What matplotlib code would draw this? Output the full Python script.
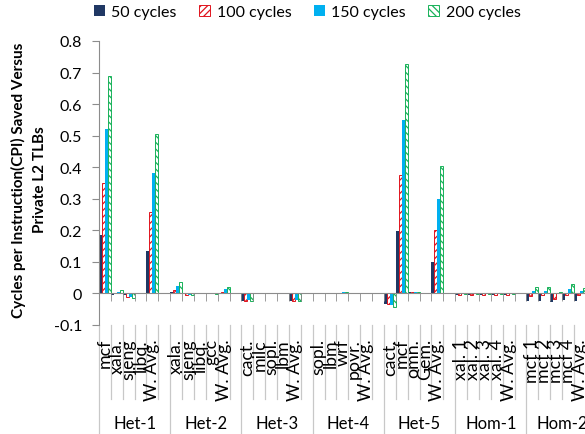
import matplotlib.pyplot as plt
from matplotlib.ticker import FixedLocator, NullLocator
import numpy as np


GROUPS = ["Het-1", "Het-2", "Het-3", "Het-4", "Het-5", "Hom-1", "Hom-2"]
CATEGORIES = [
    ["mcf", "xala.", "sjeng", "libq.", "W. Avg."],
    ["xala.", "sjeng", "libq.", "gcc", "W. Avg."],
    ["cact.", "milc", "sopl.", "lbm", "W. Avg."],
    ["sopl.", "lbm", "wrf", "povr.", "W. Avg."],
    ["cact.", "mcf", "omn.", "Gem.", "W. Avg."],
    ["xal. 1", "xal. 2", "xal. 3", "xal. 4", "W. Avg."],
    ["mcf 1", "mcf 2", "mcf 3", "mcf 4", "W. Avg."],
]

SERIES = ["50 cycles", "100 cycles", "150 cycles", "200 cycles"]

cyc50 = [0.185, -0.004, -0.006, 0.002, 0.135,
         0.005, -0.003, 0.002, 0.001, 0.002,
         -0.025, 0.002, 0.002, 0.002, -0.025,
         0.002, 0.002, 0.002, 0.002, 0.002,
         -0.033, 0.197, 0.003, 0.002, 0.100,
         -0.006, -0.006, -0.006, -0.006, -0.006,
         -0.024, -0.024, -0.028, -0.021, -0.024]
cyc100 = [0.351, 0.002, -0.010, 0.002, 0.257,
          0.012, -0.004, 0.002, 0.002, 0.005,
          -0.025, 0.002, 0.002, 0.002, -0.024,
          0.002, 0.002, 0.002, 0.002, 0.002,
          -0.035, 0.374, 0.003, 0.002, 0.200,
          -0.005, -0.005, -0.005, -0.005, -0.005,
          -0.007, -0.006, -0.017, -0.004, -0.006]
cyc150 = [0.520, 0.004, -0.012, 0.002, 0.383,
          0.025, -0.004, 0.002, -0.001, 0.013,
          -0.022, 0.002, 0.002, 0.002, -0.020,
          0.002, 0.002, 0.003, 0.002, 0.002,
          -0.038, 0.551, 0.004, 0.002, 0.300,
          -0.003, -0.003, -0.003, -0.003, -0.003,
          0.008, 0.007, 0.002, 0.013, 0.007]
cyc200 = [0.688, 0.010, -0.015, 0.002, 0.505,
          0.035, -0.004, 0.002, -0.002, 0.019,
          -0.025, 0.002, 0.002, 0.002, -0.024,
          0.002, 0.002, 0.003, 0.002, 0.002,
          -0.042, 0.727, 0.005, 0.002, 0.403,
          -0.002, -0.002, -0.002, -0.002, -0.002,
          0.022, 0.020, 0.006, 0.030, 0.017]

YTICKS = [0.8, 0.7, 0.6, 0.5, 0.4, 0.3, 0.2, 0.1, 0, -0.1]
YTICK_LABELS = ["0.8", "0.7", "0.6", "0.5", "0.4", "0.3", "0.2", "0.1", "0", "-0.1"]

COLORS = ["#203864", "#E0141E", "#00B0F0", "#19B25A"]
HATCHES = [None, "/////", None, "\\\\\\\\\\"]


def main():
    plt.rcParams["font.family"] = ["Lato", "DejaVu Sans"]
    plt.rcParams["hatch.linewidth"] = 0.9

    fig = plt.figure(figsize=(5.85, 4.35), dpi=100)
    ax = fig.add_axes([99 / 585, 109 / 435, 498.6 / 585, 284 / 435])

    slots_per_group = 6
    n_slots = slots_per_group * len(GROUPS)
    # slot index of every category (last slot of each group stays empty)
    slot_pos = []
    for g, cats in enumerate(CATEGORIES):
        for j in range(len(cats)):
            slot_pos.append(g * slots_per_group + j)
    slot_pos = np.array(slot_pos, dtype=float)

    series_vals = [cyc50, cyc100, cyc150, cyc200]
    bw = 0.25
    handles = []
    for k, vals in enumerate(series_vals):
        if HATCHES[k] is None:
            h = ax.bar(slot_pos + k * bw, vals, width=bw, align="edge",
                       color=COLORS[k], edgecolor="none", label=SERIES[k])
        else:
            h = ax.bar(slot_pos + k * bw, vals, width=bw, align="edge",
                       facecolor="white", edgecolor=COLORS[k], hatch=HATCHES[k],
                       linewidth=0.7, label=SERIES[k])
        handles.append(h)

    ax.set_xlim(0, n_slots)
    ax.set_ylim(-0.1, 0.8)

    axis_gray = "#8C8C8C"
    for s in ["top", "right"]:
        ax.spines[s].set_visible(False)
    ax.spines["left"].set_color(axis_gray)
    ax.spines["bottom"].set_color(axis_gray)
    ax.spines["bottom"].set_position(("data", 0))

    ax.yaxis.set_major_locator(FixedLocator(YTICKS))
    ax.set_yticklabels(YTICK_LABELS)
    ax.tick_params(axis="y", direction="out", length=5, color=axis_gray,
                   labelsize=11.5, pad=7)

    ax.xaxis.set_major_locator(NullLocator())
    ax.xaxis.set_minor_locator(FixedLocator(np.arange(0, n_slots + 1)))
    ax.tick_params(axis="x", which="minor", direction="out", length=6,
                   color=axis_gray)

    # multi-level category labels below the plot
    trans = ax.get_xaxis_transform()
    for g, cats in enumerate(CATEGORIES):
        for j, name in enumerate(cats):
            ax.text(g * slots_per_group + j + 0.5, -0.046, name, transform=trans,
                    rotation=90, ha="center", va="top", fontsize=12.8,
                    clip_on=False)
        ax.text(g * slots_per_group + slots_per_group / 2, -0.345, GROUPS[g],
                transform=trans, ha="center", va="center", fontsize=12,
                clip_on=False)
    line_gray = "#C8C8C8"
    for s in range(n_slots + 1):
        bottom = -0.39 if s % slots_per_group == 0 else -0.26
        ax.plot([s, s], [0, bottom], transform=trans, color=line_gray,
                linewidth=0.9, clip_on=False)

    fig.text(29 / 585, 1 - 180 / 435,
             "Cycles per Instruction(CPI) Saved Versus\nPrivate L2 TLBs",
             rotation=90, ha="center", va="center", fontsize=11,
             fontweight="bold", linespacing=1.6)

    fig.legend(handles=handles, loc="center", ncol=4,
               bbox_to_anchor=(0.525, 1 - 13 / 435), frameon=False,
               fontsize=11.5, handlelength=0.7, handleheight=0.7,
               handletextpad=0.4, columnspacing=1.4)

    fig.savefig("out.png", dpi=100)
    plt.close(fig)


if __name__ == "__main__":
    main()
